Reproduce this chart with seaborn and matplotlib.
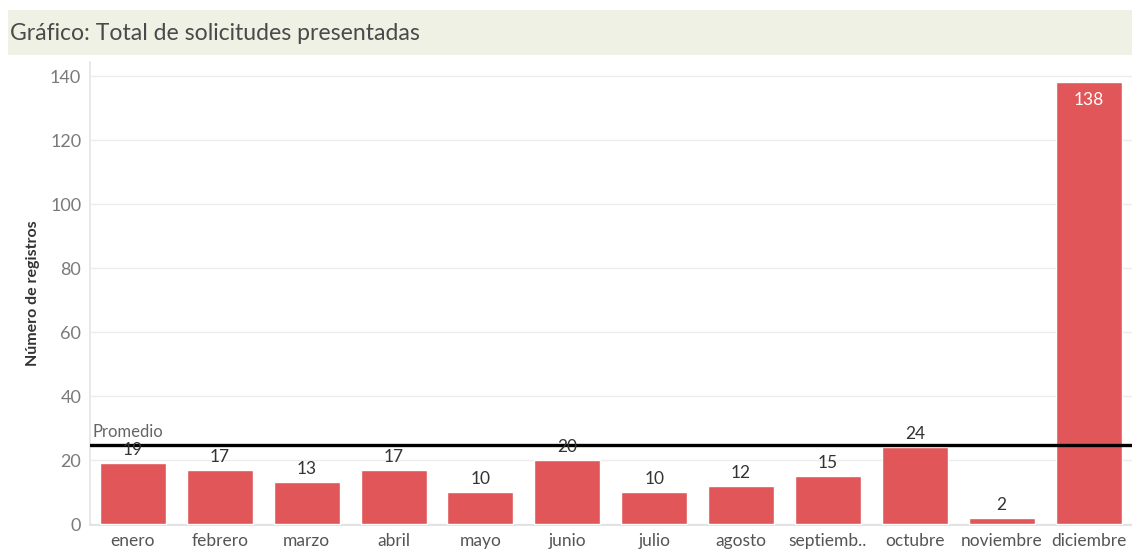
import matplotlib
matplotlib.use("Agg")
import matplotlib.pyplot as plt
import matplotlib.patches as mpatches
import seaborn as sns
import pandas as pd
import numpy as np

# Monthly totals of submitted requests
meses = ["enero", "febrero", "marzo", "abril", "mayo", "junio", "julio",
         "agosto", "septiemb..", "octubre", "noviembre", "diciembre"]
registros = [19, 17, 13, 17, 10, 20, 10, 12, 15, 24, 2, 138]
y_ticks = [0, 20, 40, 60, 80, 100, 120, 140]

titulo = "Gráfico: Total de solicitudes presentadas"
eje_y = "Número de registros"

sns.set_theme(style="white")
plt.rcParams["font.family"] = ["Lato", "DejaVu Sans"]

df = pd.DataFrame({"mes": meses, "registros": registros})
promedio = float(np.mean(registros))

fig = plt.figure(figsize=(11.32, 5.49), dpi=100)

# Title band
fig.patches.append(mpatches.Rectangle((8 / 1132, 1 - 55 / 549), 1 - 8 / 1132, 45 / 549,
                                      transform=fig.transFigure, facecolor="#eef1e4",
                                      edgecolor="none", zorder=0))
fig.text(10 / 1132, 1 - 33 / 549, titulo, fontsize=16.6, color="#4a4a4a",
         va="center", ha="left")

ax = fig.add_axes([89.5 / 1132, 24 / 549, 1 - 89.5 / 1132, 463 / 549])
sns.barplot(data=df, x="mes", y="registros", color="#e15759", saturation=1,
            width=0.76, ax=ax, zorder=3)

ax.set_xlim(-0.5, len(meses) - 0.5)
ax.set_ylim(-0.3, 144.4)
ax.set_yticks(y_ticks)
ax.set_yticklabels([str(v) for v in y_ticks], fontsize=13, color="#7a7a7a")
ax.yaxis.grid(True, color="#ececec", linewidth=1, zorder=0)
ax.tick_params(axis="y", length=0, pad=6)
ax.tick_params(axis="x", length=0, pad=6, labelsize=12.5, labelcolor="#555555")
ax.set_xticks(range(len(meses)))
ax.set_xticks(np.arange(0.5, len(meses) - 0.5, 1), minor=True)
ax.tick_params(axis="x", which="minor", length=4, color="#dddddd", width=1)
ax.set_xlabel("")
ax.set_ylabel(eje_y, fontsize=11.5, color="#333333", fontweight="bold", labelpad=7)

for s in ["top", "right"]:
    ax.spines[s].set_visible(False)
ax.spines["left"].set_color("#e6e6e6")
ax.spines["bottom"].set_color("#e0e0e0")

# Value labels
for i, v in enumerate(registros):
    if v > 100:
        ax.text(i, v - 3, str(v), ha="center", va="top", fontsize=12.5,
                color="white", zorder=5)
    else:
        ax.text(i, v + 1.6, str(v), ha="center", va="bottom", fontsize=12.5,
                color="#333333", zorder=5)

# Average reference line
ax.axhline(promedio, color="black", linewidth=2.4, zorder=4)
ax.text(-0.47, promedio + 1.6, "Promedio", ha="left", va="bottom", fontsize=12,
        color="#666666", zorder=5)

fig.savefig("out.png", dpi=100)
